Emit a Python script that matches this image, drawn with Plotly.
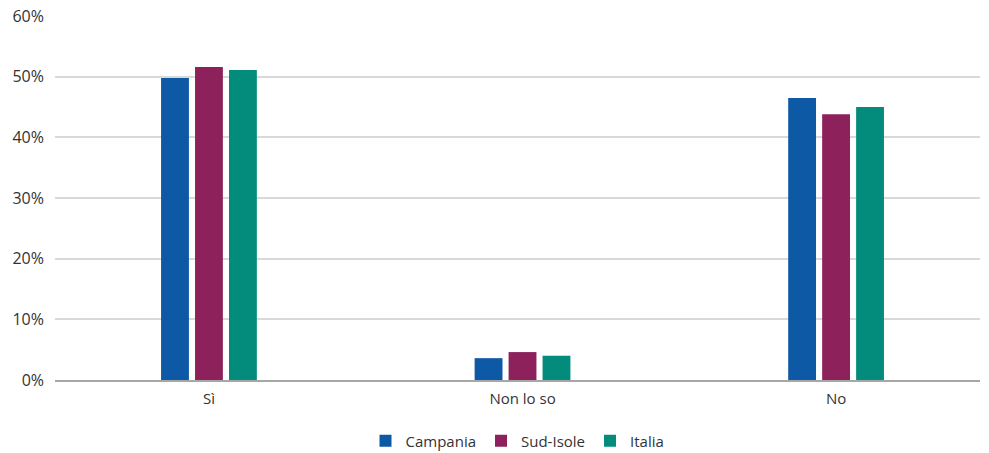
import plotly.graph_objects as go

categories = ["Sì", "Non lo so", "No"]
campania = [49.8, 3.6, 46.5]
sud_isole = [51.6, 4.6, 43.8]
italia = [51.1, 4.0, 45.0]

tick_vals = [0, 10, 20, 30, 40, 50, 60]
tick_text = ["0%", "10%", "20%", "30%", "40%", "50%", "60%"]

series = [
    ("Campania", campania, "#0E59A6"),
    ("Sud-Isole", sud_isole, "#8C215B"),
    ("Italia", italia, "#038C7C"),
]

fig = go.Figure()
for name, vals, color in series:
    fig.add_trace(go.Bar(
        name=name, x=categories, y=vals,
        marker=dict(color=color, line=dict(width=0)),
        hovertemplate="%{x}: %{y:.1f}%<extra>" + name + "</extra>",
    ))

fig.update_layout(
    width=989, height=453,
    margin=dict(l=55, r=9, t=16, b=73, autoexpand=False),
    paper_bgcolor="white", plot_bgcolor="white",
    barmode="group", bargap=0.675, bargroupgap=0.18,
    font=dict(family="Open Sans", size=15, color="#333333"),
    showlegend=True,
    legend=dict(
        orientation="h", x=0.5, xanchor="center",
        yref="container", y=12 / 453, yanchor="middle",
        font=dict(size=15, color="#333333"),
        itemwidth=30, tracegroupgap=0,
    ),
    xaxis=dict(
        range=[-0.491, 2.459],
        showgrid=False, showline=True, linecolor="#A6A6A6", linewidth=2,
        ticks="", tickfont=dict(size=15), ticklabelstandoff=4,
    ),
    yaxis=dict(
        range=[0, 60], tickvals=tick_vals, ticktext=tick_text,
        showgrid=True, gridcolor="#D9D9D9", gridwidth=1.5,
        zeroline=False, showline=False, ticks="",
        tickfont=dict(size=16), ticklabelstandoff=10,
    ),
)

fig.write_html("out.html")
